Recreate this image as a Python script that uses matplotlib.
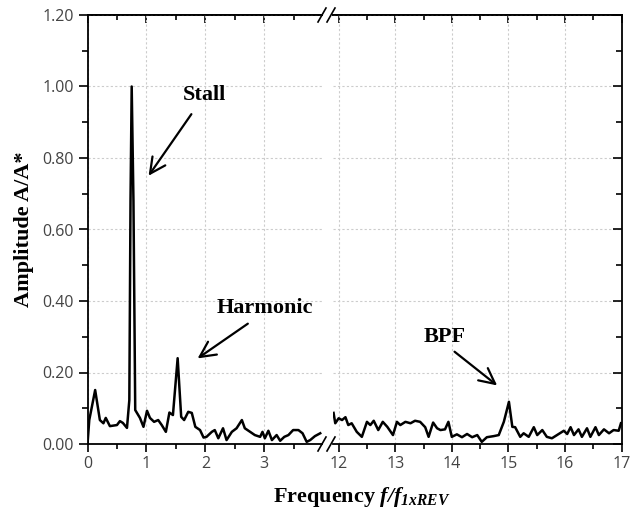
import numpy as np
import matplotlib.pyplot as plt
from matplotlib.lines import Line2D
from matplotlib.ticker import MultipleLocator, FormatStrFormatter

plt.rcParams['mathtext.fontset'] = 'custom'
plt.rcParams['mathtext.rm'] = 'Liberation Serif'
plt.rcParams['mathtext.it'] = 'Liberation Serif:italic'
plt.rcParams['mathtext.bf'] = 'Liberation Serif:bold'
plt.rcParams['mathtext.bfit'] = 'Liberation Serif:italic:bold'

# spectrum, low frequency part (f/f_1xREV)
x_low = [0.0, 0.03, 0.13, 0.21, 0.27, 0.31, 0.38, 0.50, 0.55, 0.60, 0.67, 0.71,
         0.73, 0.75, 0.78, 0.81, 0.89, 0.95, 1.01, 1.06, 1.13, 1.20, 1.26, 1.33,
         1.39, 1.45, 1.53, 1.59, 1.64, 1.71, 1.77, 1.83, 1.91, 1.97, 2.02, 2.11,
         2.16, 2.22, 2.30, 2.36, 2.45, 2.53, 2.62, 2.67, 2.76, 2.84, 2.93, 2.97,
         3.01, 3.07, 3.13, 3.21, 3.27, 3.34, 3.41, 3.49, 3.58, 3.65, 3.72, 3.78,
         3.86, 3.95]
y_low = [0.0, 0.067, 0.151, 0.067, 0.058, 0.073, 0.050, 0.053, 0.064, 0.059, 0.045, 0.123,
         0.68, 1.0, 0.68, 0.095, 0.073, 0.048, 0.093, 0.073, 0.062, 0.067, 0.053, 0.034,
         0.088, 0.081, 0.240, 0.076, 0.067, 0.090, 0.087, 0.048, 0.039, 0.018, 0.020, 0.034,
         0.039, 0.016, 0.044, 0.011, 0.034, 0.044, 0.067, 0.044, 0.034, 0.025, 0.020, 0.034,
         0.016, 0.037, 0.011, 0.025, 0.009, 0.020, 0.025, 0.039, 0.039, 0.030, 0.006, 0.011,
         0.022, 0.030]

# high frequency part
x_high = [11.91, 11.94, 12.00, 12.06, 12.12, 12.17, 12.23, 12.32, 12.41, 12.50, 12.56,
          12.62, 12.70, 12.78, 12.86, 12.96, 13.03, 13.09, 13.18, 13.27, 13.35, 13.44,
          13.53, 13.59, 13.67, 13.74, 13.80, 13.88, 13.94, 14.00, 14.09, 14.18, 14.27,
          14.36, 14.45, 14.53, 14.62, 14.74, 14.83, 14.92, 15.01, 15.07, 15.12, 15.21,
          15.27, 15.36, 15.45, 15.51, 15.60, 15.68, 15.77, 15.86, 15.98, 16.04, 16.10,
          16.16, 16.24, 16.30, 16.39, 16.45, 16.54, 16.60, 16.69, 16.78, 16.86, 16.95,
          16.99]
y_high = [0.087, 0.058, 0.072, 0.067, 0.075, 0.053, 0.058, 0.034, 0.020, 0.062, 0.053,
          0.065, 0.039, 0.062, 0.048, 0.025, 0.062, 0.053, 0.062, 0.058, 0.065, 0.062,
          0.047, 0.020, 0.060, 0.044, 0.039, 0.041, 0.062, 0.020, 0.027, 0.019, 0.028,
          0.019, 0.025, 0.006, 0.019, 0.022, 0.025, 0.062, 0.118, 0.048, 0.047, 0.020,
          0.030, 0.020, 0.047, 0.025, 0.039, 0.020, 0.016, 0.025, 0.037, 0.028, 0.047,
          0.025, 0.041, 0.020, 0.044, 0.020, 0.047, 0.025, 0.041, 0.030, 0.039, 0.037,
          0.058]

W, H = 631, 514
fig = plt.figure(figsize=(W / 100, H / 100), dpi=100)

bot = 1 - 444 / H
hgt = (444 - 15) / H
ax1 = fig.add_axes([87.5 / W, bot, (322 - 87.5) / W, hgt])
ax2 = fig.add_axes([333 / W, bot, (621.5 - 333) / W, hgt], sharey=ax1)

lab_family = 'Open Sans'
lab_size = 11.5
lab_color = '#444444'

ax1.plot(x_low, y_low, color='black', lw=1.8, solid_joinstyle='round')
ax2.plot(x_high, y_high, color='black', lw=1.8, solid_joinstyle='round')
ax1.set_xlim(0, 3.98)
ax2.set_xlim(11.90, 17.0)

for ax in (ax1, ax2):
    ax.set_ylim(0, 1.2)
    ax.yaxis.set_major_locator(MultipleLocator(0.2))
    ax.yaxis.set_minor_locator(MultipleLocator(0.1))
    ax.xaxis.set_major_locator(MultipleLocator(1))
    ax.xaxis.set_minor_locator(MultipleLocator(0.5))
    ax.grid(True, which='major', color='#cccccc', linestyle=(0, (2, 2)), linewidth=0.8)
    for s in ax.spines.values():
        s.set_linewidth(1.3)
    ax.tick_params(axis='x', which='both', bottom=True, top=False, direction='out',
                   width=1.2, pad=3)
    ax.tick_params(axis='x', which='major', length=6)
    ax.tick_params(axis='x', which='minor', length=3.5)
    # top ticks pointing inward, no labels
    top = ax.secondary_xaxis('top')
    top.xaxis.set_major_locator(MultipleLocator(1))
    top.xaxis.set_minor_locator(MultipleLocator(0.5))
    top.tick_params(axis='x', which='both', direction='in', width=1.2, labeltop=False)
    top.tick_params(axis='x', which='major', length=6)
    top.tick_params(axis='x', which='minor', length=3.5)
    top.spines['top'].set_linewidth(1.3)

ax1.spines['right'].set_visible(False)
ax2.spines['left'].set_visible(False)

ax1.yaxis.set_major_formatter(FormatStrFormatter('%.2f'))
ax1.tick_params(axis='y', which='both', left=True, right=False, direction='out', width=1.2)
ax1.tick_params(axis='y', which='major', length=6.5)
ax1.tick_params(axis='y', which='minor', length=4)
ax2.tick_params(axis='y', which='both', left=False, right=True, labelleft=False,
                direction='in', width=1.2)
ax2.tick_params(axis='y', which='major', length=6.5)
ax2.tick_params(axis='y', which='minor', length=4)

for ax in (ax1, ax2):
    for lbl in ax.get_xticklabels() + ax.get_yticklabels():
        lbl.set_fontfamily(lab_family)
        lbl.set_fontsize(lab_size)
        lbl.set_color(lab_color)

ax1.set_ylabel('Amplitude A/A*', family='Liberation Serif', fontweight='bold',
               fontsize=16, labelpad=6)
fig.text(362 / W, 1 - 497 / H, r'$\mathbf{Frequency}\ \mathbfit{f/f}_{\mathbfit{1xREV}}$',
         ha='center', va='center', fontsize=16)

# break marks on top and bottom spines
for yb in (15, 444):
    for xs in (318, 327):
        fig.add_artist(Line2D([xs / W, (xs + 8) / W],
                              [1 - (yb + 7) / H, 1 - (yb - 7) / H],
                              transform=fig.transFigure, color='black', lw=1.2))

txt = dict(family='Liberation Serif', fontweight='bold', fontsize=16, ha='center', va='center')
arr = dict(arrowstyle='->', lw=1.6, color='black', mutation_scale=28)

ax1.text(1.98, 0.976, 'Stall', **txt)
ax1.annotate('', xy=(1.01, 0.744), xytext=(1.79, 0.929), arrowprops=arr)
ax1.text(3.01, 0.380, 'Harmonic', **txt)
ax1.annotate('', xy=(1.83, 0.235), xytext=(2.76, 0.341), arrowprops=arr)
ax2.text(13.88, 0.299, 'BPF', **txt)
ax2.annotate('', xy=(14.84, 0.159), xytext=(14.01, 0.263), arrowprops=arr)

fig.savefig('out.png', dpi=100)
